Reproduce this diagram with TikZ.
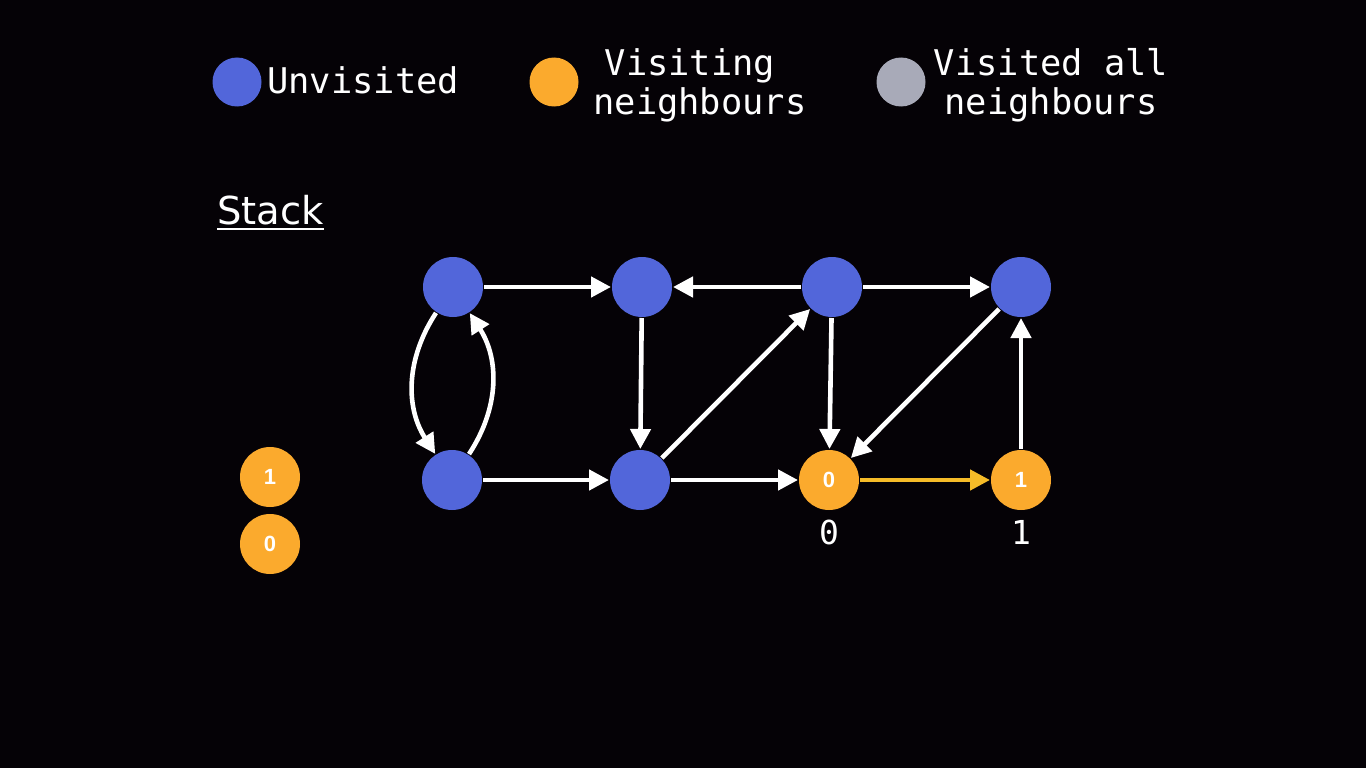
\documentclass[tikz,border=0pt]{standalone}
\usepackage{fontspec}
\setmonofont{DejaVu Sans Mono}
\newfontfamily\stackfont{DejaVu Sans}
\newfontfamily\numfont{Liberation Sans}
\usetikzlibrary{arrows.meta}
\definecolor{bg}{RGB}{5,2,6}
\definecolor{vblue}{RGB}{82,102,218}
\definecolor{vorange}{RGB}{251,170,45}
\definecolor{vgray}{RGB}{168,170,184}
\definecolor{vyellow}{RGB}{246,188,40}
\begin{document}
\begin{tikzpicture}[x=1pt,y=-1pt,
  vtx/.style={circle,minimum size=60pt,inner sep=0pt,outer sep=1pt,fill=vblue,text=white,font=\numfont\bfseries\fontsize{22}{24}\selectfont},
  vis/.style={vtx,fill=vorange},
  leg/.style={circle,minimum size=49pt,inner sep=0pt},
  legtext/.style={anchor=base,inner sep=0pt,text=white,font=\ttfamily\fontsize{35.4}{40}\selectfont},
  lbl/.style={inner sep=0pt,text=white,font=\ttfamily\fontsize{33}{36}\selectfont},
  edge/.style={draw=white,line width=4.6pt,-{Triangle[length=20pt,width=20pt]}},
  yedge/.style={edge,draw=vyellow},
]
\fill[bg] (0,0) rectangle (1366,768);
\useasboundingbox (0,0) rectangle (1366,768);

% legend
\node[leg,fill=vblue] (l1) at (237,82) {};
\node[legtext,anchor=base west] (t1) at (267,93) {Unvisited};
\node[leg,fill=vorange] (l2) at (554,82) {};
\node[legtext] (t2a) at (690,75) {Visiting};
\node[legtext] (t2b) at (700,114) {neighbours};
\node[leg,fill=vgray] (l3) at (901,82) {};
\node[legtext] (t3a) at (1051,75) {Visited all};
\node[legtext] (t3b) at (1051,114) {neighbours};

% stack
\node[anchor=base west,inner sep=0pt,text=white,font=\stackfont\fontsize{38.5}{42}\selectfont] (stack) at (217,224) {Stack};
\draw[white,line width=2pt] ([yshift=-5pt]stack.base west) -- ([yshift=-5pt]stack.base east);
\node[vis] (s1) at (270,477) {1};
\node[vis] (s0) at (270,544) {0};

% graph
\node[vtx] (A) at (453,287) {};
\node[vtx] (B) at (642,287) {};
\node[vtx] (C) at (832,287) {};
\node[vtx] (D) at (1021,287) {};
\node[vtx] (E) at (452,480) {};
\node[vtx] (F) at (640,480) {};
\node[vis] (G) at (829,480) {0};
\node[vis] (H) at (1021,480) {1};

\node[lbl] (g0) at (829,532) {0};
\node[lbl] (h1) at (1021,532) {1};

\draw[edge] (A) -- (B);
\draw[edge] (C) -- (B);
\draw[edge] (C) -- (D);
\draw[edge] (B) -- (F);
\draw[edge] (F) -- (C);
\draw[edge] (C) -- (G);
\draw[edge] (D) -- (G);
\draw[edge] (H) -- (D);
\draw[edge] (E) -- (F);
\draw[edge] (F) -- (G);
\draw[yedge] (G) -- (H);
\draw[edge] (A) to[bend right=33] (E);
\draw[edge] (E) to[bend right=33] (A);
\end{tikzpicture}
\end{document}
